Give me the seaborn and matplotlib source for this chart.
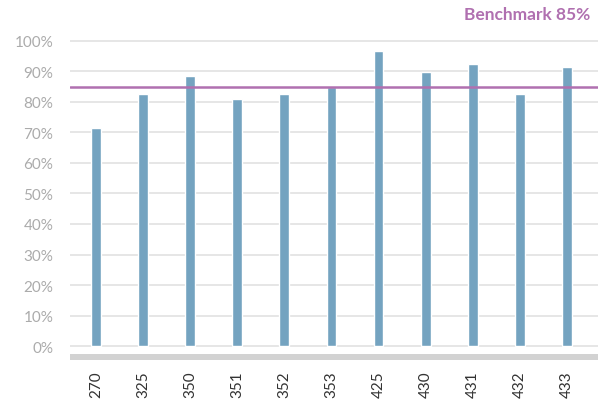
import pandas as pd
import matplotlib.pyplot as plt
import seaborn as sns
from matplotlib.ticker import FuncFormatter

codes = ["270", "325", "350", "351", "352", "353", "425", "430", "431", "432", "433"]
scores = [71.5, 82.7, 88.6, 80.8, 82.7, 84.8, 96.8, 89.9, 92.5, 82.7, 91.5]
benchmark = 85

df = pd.DataFrame({"code": codes, "score": scores})

sns.set_theme(style="white")
plt.rcParams["font.family"] = ["Lato", "DejaVu Sans"]

fig = plt.figure(figsize=(5.98, 4.02), dpi=100)
ax = fig.add_axes([70 / 598, 1 - 362 / 402, 528 / 598, 332 / 402])

sns.barplot(data=df, x="code", y="score", color="#74a3c0", saturation=1,
            width=0.21, ax=ax, zorder=3)

ax.set_xlim(-0.552, 10.66)
ax.set_ylim(-4.9, 103.9)
ax.set_yticks(range(0, 101, 10))
ax.yaxis.set_major_formatter(FuncFormatter(lambda v, p: f"{int(v)}%"))
for y in range(0, 101, 10):
    ax.axhline(y, color="#e2e2e2", lw=1.2, zorder=1)
ax.axhspan(-4.6, -2.6, color="#d2d2d2", lw=0, zorder=2)
ax.axhline(benchmark, color="#b070b0", lw=1.8, zorder=4)

for s in ax.spines.values():
    s.set_visible(False)
ax.tick_params(axis="y", length=0, pad=12, labelsize=11, labelcolor="#ababab")
ax.tick_params(axis="x", length=0, pad=7, labelsize=11, labelcolor="#333333",
               labelrotation=90)
ax.set_xlabel("")
ax.set_ylabel("")

fig.text(590 / 598, 1 - 15 / 402, f"Benchmark {benchmark}%", ha="right", va="center",
         color="#b070b0", fontsize=12.5, fontweight="bold")

plt.savefig("out.png", dpi=100)
